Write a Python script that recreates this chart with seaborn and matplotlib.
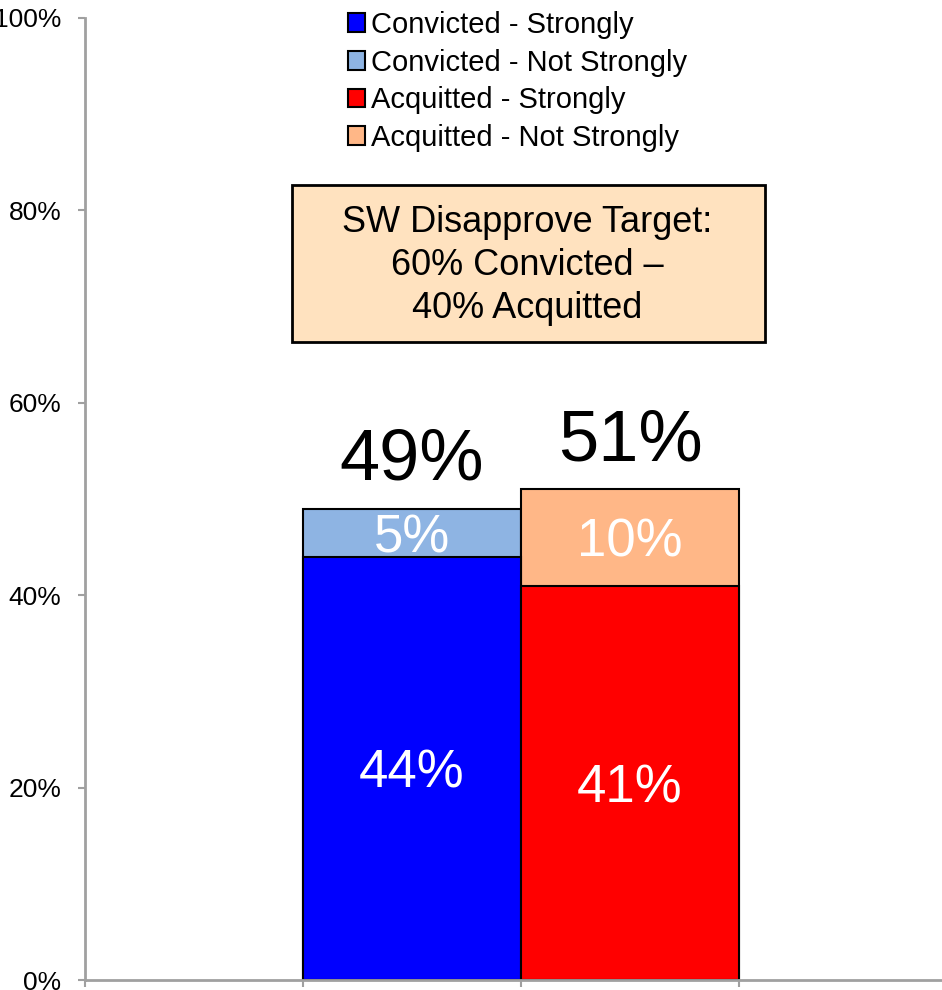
import numpy as np
import pandas as pd
import matplotlib.pyplot as plt
import seaborn as sns
from matplotlib.patches import Patch, Rectangle

sns.set_style('white')
plt.rcParams['font.family'] = ['Liberation Sans', 'DejaVu Sans']
plt.rcParams['text.color'] = 'black'

# data
cats = ['Convicted', 'Acquitted']
strong = [44, 41]
not_strong = [5, 10]
totals = [s + n for s, n in zip(strong, not_strong)]
legend_labels = ['Convicted - Strongly', 'Convicted - Not Strongly',
                 'Acquitted - Strongly', 'Acquitted - Not Strongly']
yticks = [0, 20, 40, 60, 80, 100]
target_text = 'SW Disapprove Target:\n60% Convicted \u2013\n40% Acquitted'

strong_cols = ['#0000FF', '#FF0000']
light_cols = ['#8EB4E3', '#FFB787']

dfrm = pd.DataFrame({'cat': cats, 'strong': strong, 'total': totals})

fig = plt.figure(figsize=(9.42, 9.9), dpi=100)
ax = fig.add_axes([85/942, 10/990, 872/942, 962/990])

# stacked: draw totals (top segment) first, then strong part over it
sns.barplot(data=dfrm, x='cat', y='total', hue='cat', palette=light_cols,
            saturation=1, width=1.0, edgecolor='black', linewidth=1.5,
            legend=False, ax=ax)
sns.barplot(data=dfrm, x='cat', y='strong', hue='cat', palette=strong_cols,
            saturation=1, width=1.0, edgecolor='black', linewidth=1.5,
            legend=False, ax=ax)

ax.set_xlim(-1.5, 2.5)
ax.set_ylim(0, 100)
ax.set_xticks([-1.5, -0.5, 0.5, 1.5, 2.5])
ax.set_xticklabels([])
ax.set_yticks(yticks)
ax.set_yticklabels([f'{v}%' for v in yticks], fontsize=19, color='black')
ax.set_xlabel('')
ax.set_ylabel('')
ax.tick_params(axis='both', which='both', direction='out', length=5, width=1.5,
               color='#A0A0A0', left=True, bottom=True, pad=12)
for side in ['top', 'right']:
    ax.spines[side].set_visible(False)
for side in ['left', 'bottom']:
    ax.spines[side].set_color('#A0A0A0')
    ax.spines[side].set_linewidth(2)

# labels
for i in range(len(cats)):
    ax.text(i, strong[i] / 2, f'{strong[i]}%', ha='center', va='center_baseline',
            color='white', fontsize=38)
    ax.text(i, strong[i] + not_strong[i] / 2, f'{not_strong[i]}%', ha='center',
            va='center_baseline', color='white', fontsize=38)
    ax.text(i, totals[i] + 3, f'{totals[i]}%', ha='center', va='baseline',
            color='black', fontsize=52)

# target box
ax.add_patch(Rectangle((-0.55, 66.3), 2.17, 16.3, facecolor='#FFE2BF',
                       edgecolor='black', linewidth=2, zorder=3))
ax.text(0.53, 74.3, target_text, ha='center', va='center', fontsize=26,
        color='black', linespacing=1.3, zorder=4)

handles = [Patch(facecolor=c, edgecolor='black', linewidth=1.5)
           for c in [strong_cols[0], light_cols[0], strong_cols[1], light_cols[1]]]
fig.legend(handles, legend_labels, loc='upper left', bbox_to_anchor=(345/942, 1 - 8/990),
           frameon=False, fontsize=21, handlelength=0.6, handleheight=0.6,
           handletextpad=0.2, labelspacing=0.33, borderaxespad=0, borderpad=0.1,
           labelcolor='black')

fig.savefig('out.png', dpi=100)
